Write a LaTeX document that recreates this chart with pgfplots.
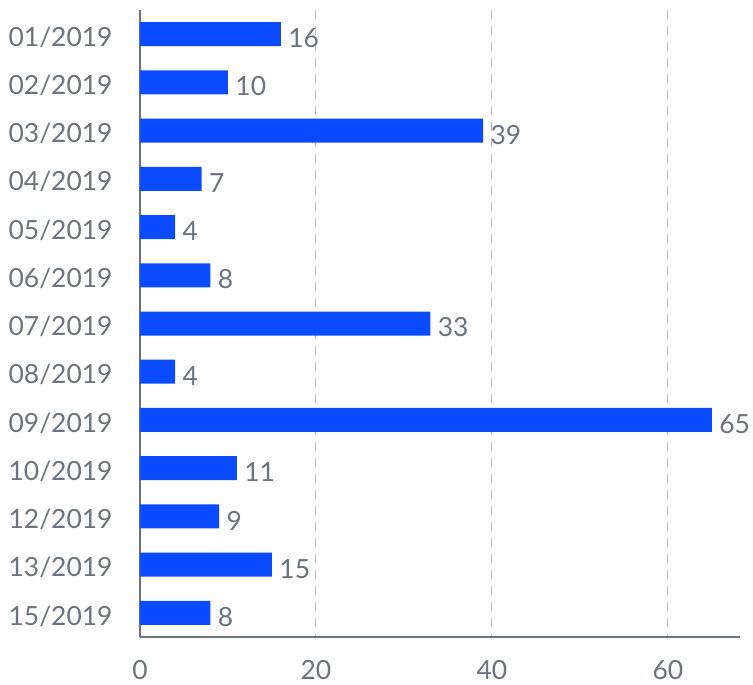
\documentclass[border=0pt]{standalone}
\usepackage{pgfplots}
\pgfplotsset{compat=1.18}
\usepackage{fontspec}
\setmainfont{Lato}
\definecolor{barblue}{HTML}{0A4BFF}
\definecolor{txtgray}{HTML}{6C737C}
\definecolor{gridgray}{HTML}{BBBBBB}
\begin{document}
\begin{tikzpicture}
\begin{axis}[
  scale only axis,
  width=600bp, height=627bp,
  xbar, bar width=24bp,
  xmin=0, xmax=68.2,
  ymin=-0.5, ymax=12.5,
  y dir=reverse,
  axis lines*=left,
  axis line style={txtgray, line width=1.5bp},
  ytick={0,...,12},
  yticklabels={01/2019,02/2019,03/2019,04/2019,05/2019,06/2019,07/2019,08/2019,09/2019,10/2019,12/2019,13/2019,15/2019},
  xtick={0,20,40,60},
  major tick length=0pt,
  tick style={draw=none},
  xmajorgrids,
  grid style={gridgray, line width=1bp, dash pattern=on 9bp off 7bp},
  ticklabel style={font=\fontsize{26.5}{31}\selectfont, text=txtgray},
  yticklabel style={xshift=-24bp, yshift=-3bp},
  xticklabel style={yshift=-20bp},
  /pgf/number format/assume math mode=true,
  nodes near coords,
  every node near coord/.append style={font=\fontsize{26.5}{31}\selectfont, text=txtgray, xshift=4bp, yshift=-4bp},
  clip=false,
]
\addplot[fill=barblue, draw=none] coordinates {
  (16,0) (10,1) (39,2) (7,3) (4,4) (8,5) (33,6) (4,7) (65,8) (11,9) (9,10) (15,11) (8,12)
};
\end{axis}
\pgfresetboundingbox
\path[use as bounding box] (current axis.south west) ++(-140bp,-47bp) rectangle ([shift={(13bp,10bp)}]current axis.north east);
\end{tikzpicture}
\end{document}
